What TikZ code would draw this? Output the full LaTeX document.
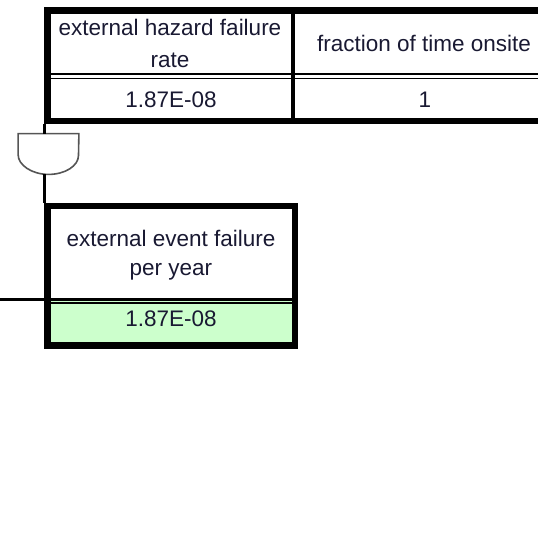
\documentclass[tikz,border=0pt]{standalone}
\usepackage{fontspec}
\setmainfont{Liberation Sans}
\definecolor{ink}{RGB}{25,25,50}
\definecolor{valgreen}{RGB}{204,255,204}
\definecolor{gateline}{RGB}{85,85,85}
\begin{document}
\begin{tikzpicture}[x=0.5pt,y=-0.5pt,
  frame/.style={draw=black, line width=3.25pt, inner sep=0pt},
  rowrule/.style={draw=black, line width=1.2pt},
  rowrulethin/.style={draw=black, line width=0.9pt},
  colrule/.style={draw=black, line width=2pt},
  wire/.style={draw=black, line width=1.5pt},
  gatebody/.style={draw=gateline, line width=0.8pt, fill=white},
  label/.style={text=ink, font=\fontsize{11.25pt}{15.8pt}\selectfont, inner sep=0pt, align=center},
  label2/.style={text=ink, font=\fontsize{11.25pt}{14.5pt}\selectfont, inner sep=0pt, align=center}]
\useasboundingbox (0,0) rectangle (538,537);
\clip (0,0) rectangle (538,537);

% input table: hazard rate and fraction of time
\node[frame, minimum width=253.75pt, minimum height=55.25pt] (tabA) at (301.25,65.75) {};
\draw[rowrule] (47.5,74) -- (555,74);
\draw[rowrulethin] (47.5,78.4) -- (555,78.4);
\draw[colrule] (293,10.5) -- (293,121);
\node[label] (haz) at (170,43.3) {external hazard failure\\rate};
\node[label, anchor=base] (frac) at (424,51.7) {fraction of time onsite};
\node[label, anchor=base] (hazval) at (171,107.3) {1.87E-08};
\node[label, anchor=base] (fracval) at (425,107.8) {1};

% result box
\fill[white] (47.5,206) rectangle (295,300);
\fill[valgreen] (47.5,300) rectangle (295,345.5);
\node[frame, minimum width=123.75pt, minimum height=69.75pt] (boxB) at (171.25,275.75) {};
\draw[rowrule] (47.5,299.4) -- (295,299.4);
\draw[rowrulethin] (47.5,303) -- (295,303);
\node[label2] (evt) at (171,254.7) {external event failure\\per year};
\node[label, anchor=base] (evtval) at (171,326.7) {1.87E-08};

% AND gate
\node[minimum width=30pt, minimum height=20pt, inner sep=0pt] (gate) at (48.5,154) {};
\draw[gatebody] (gate.north west) -- ++(0,21)
  .. controls +(0,10.5) and +(-16.6,0) .. (gate.south)
  .. controls +(16.6,0) and +(0,10.5) .. ++(30,-19)
  -- (gate.north east) -- cycle;

% connectors
\draw[wire] (tabA.south west) -- (tabA.south west |- gate.north);
\draw[wire] (tabA.south west |- gate.south) -- (boxB.north west);
\coordinate (feed) at (0,299.5);
\draw[wire] (feed) -- (feed -| boxB.west);
\end{tikzpicture}
\end{document}
